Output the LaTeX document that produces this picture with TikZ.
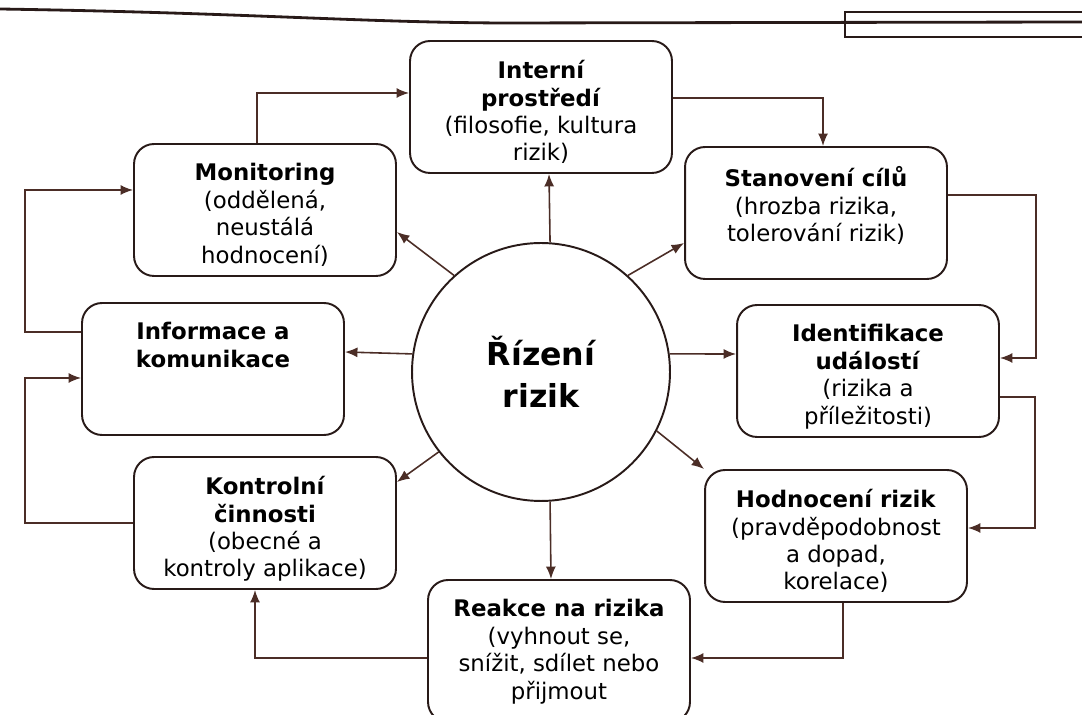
\documentclass[tikz,border=0pt]{standalone}
\usepackage{fontspec}
\setmainfont{DejaVu Sans}
\usetikzlibrary{arrows.meta}
\definecolor{ink}{RGB}{40,26,24}
\definecolor{wire}{RGB}{75,45,38}
\newcommand{\boxtext}[2][1.86cm]{\parbox[c][#1][t]{5cm}{\centering\fontsize{13}{15.6}\selectfont #2}}

\begin{document}
\begin{tikzpicture}[x=0.02cm, y=-0.02cm,
    stage/.style={draw=ink, line width=1.1pt, rounded corners=0.4cm, fill=white, inner xsep=0.12cm, inner ysep=0.39cm},
    hub/.style={draw=ink, line width=1.1pt, circle, fill=white, minimum size=5.16cm, inner sep=0pt},
    flow/.style={draw=wire, line width=0.9pt, -{Latex[length=2.5mm,width=2mm]}}]
    \useasboundingbox (0,0) rectangle (1082,715);

    \draw[ink, line width=1.6pt] (0,9) .. controls (250,13) and (350,22) .. (500,23) -- (1082,22);
    \draw[ink, line width=0.8pt] (1082,12) -| (845,37) -- (1082,37);

    \node[hub] (core) at (541,372) {\parbox{4cm}{\centering\fontsize{18}{24}\selectfont\bfseries Řízení\\rizik}};
    \node[stage] (int) at (541,107) {\boxtext{\textbf{Interní\\prostředí}\\(filosofie, kultura\\rizik)}};
    \node[stage] (sta) at (816,213) {\boxtext{\textbf{Stanovení cílů}\\(hrozba rizika,\\tolerování rizik)}};
    \node[stage] (ide) at (868,371) {\boxtext{\textbf{Identifikace\\událostí}\\(rizika a\\příležitosti)}};
    \node[stage] (hod) at (836,536) {\boxtext{\textbf{Hodnocení rizik}\\(pravděpodobnost\\a dopad,\\korelace)}};
    \node[stage] (rea) at (559,651) {\boxtext[2.06cm]{\textbf{Reakce na rizika}\\(vyhnout se,\\snížit, sdílet nebo\\přijmout}};
    \node[stage] (kon) at (265,523) {\boxtext{\textbf{Kontrolní\\činnosti}\\(obecné a\\kontroly aplikace)}};
    \node[stage] (inf) at (213,369) {\boxtext{\textbf{Informace a\\komunikace}}};
    \node[stage] (mon) at (265,210) {\boxtext{\textbf{Monitoring}\\(oddělená,\\neustálá\\hodnocení)}};

    \draw[flow] (core.86) -- ([xshift=0.16cm]int.south);
    \draw[flow] (core.48) -- ([yshift=-0.6cm]sta.west);
    \draw[flow] (core.8) -- ([yshift=0.34cm]ide.west);
    \draw[flow] (core.-27) -- (hod.north west);
    \draw[flow] (core.-86) -- ([xshift=-0.16cm]rea.north);
    \draw[flow] (core.218) -- ([yshift=0.82cm]kon.east);
    \draw[flow] (core.172) -- ([yshift=0.34cm]inf.east);
    \draw[flow] (core.132) -- ([yshift=-0.44cm]mon.east);

    \draw[flow] ([yshift=0.18cm]int.east) -| ([xshift=0.14cm]sta.north);
    \draw[flow] ([yshift=0.36cm]sta.east) -- ++(88,0) |- ([yshift=0.26cm]ide.east);
    \draw[flow] ([yshift=-0.52cm]ide.east) -- ++(35,0) |- ([yshift=0.16cm]hod.east);
    \draw[flow] ([xshift=0.14cm]hod.south) |- ([yshift=-0.14cm]rea.east);
    \draw[flow] ([yshift=-0.14cm]rea.west) -| ([xshift=-0.2cm]kon.south);
    \draw[flow] (kon.west) -- ++(-108,0) |- ([yshift=-0.18cm]inf.west);
    \draw[flow] ([yshift=0.74cm]inf.west) -- ++(-56,0) |- ([yshift=0.4cm]mon.west);
    \draw[flow] ([xshift=-0.16cm]mon.north) |- ([yshift=0.28cm]int.west);
\end{tikzpicture}
\end{document}
